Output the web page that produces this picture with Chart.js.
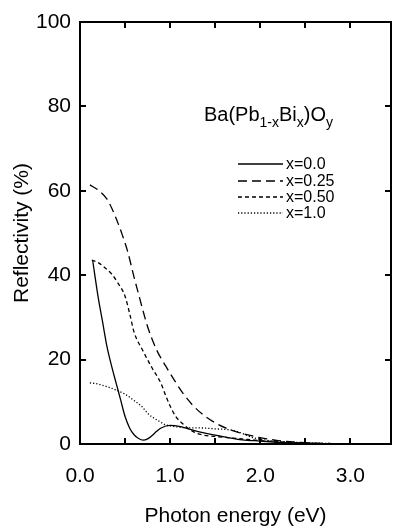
<!DOCTYPE html>
<html>
<head>
<meta charset="utf-8">
<script src="https://cdn.jsdelivr.net/npm/chart.js@4/dist/chart.umd.min.js"></script>
<style>
  html, body { margin: 0; padding: 0; background: #fff; }
  #c { display: block; }
</style>
</head>
<body>
<canvas id="c" width="393" height="528"></canvas>
<script>
// ---- Data ----
const seriesLabels = ['x=0.0', 'x=0.25', 'x=0.50', 'x=1.0'];

const energy_x000 = [0.14,0.2,0.25,0.3,0.35,0.4,0.45,0.5,0.55,0.6,0.65,0.7,0.75,0.8,0.85,0.9,1.0,1.1,1.2,1.3,1.4,1.5,1.6,1.8,2.0,2.2,2.5,2.8];
const refl_x000   = [43.6,35,29,23,18.5,14.5,10.5,6.5,3.8,2.2,1.3,0.9,1.2,2.0,3.0,3.8,4.4,4.2,3.6,3.0,2.5,2.1,1.7,1.0,0.7,0.4,0.2,0.05];

const energy_x025 = [0.11,0.2,0.3,0.35,0.4,0.47,0.53,0.6,0.65,0.7,0.75,0.85,0.95,1.05,1.15,1.25,1.35,1.5,1.65,1.8,2.0,2.2,2.5,2.8];
const refl_x025   = [61.4,60.2,58,56,53.5,49.5,45.5,39.5,35.5,31.5,27.8,22.3,18.5,15,11.8,9.2,7.2,5,3.5,2.5,1.5,0.8,0.3,0.1];

const energy_x050 = [0.13,0.2,0.28,0.35,0.41,0.5,0.55,0.6,0.7,0.8,0.9,0.95,1.0,1.06,1.15,1.25,1.35,1.5,1.7,2.0,2.3,2.6];
const refl_x050   = [43.6,43,41.7,40.3,38.5,35,31,26.5,22,18,14.3,11.5,9,6.6,4.6,3,2.2,1.8,1.4,0.8,0.4,0.1];

const energy_x100 = [0.11,0.2,0.31,0.4,0.5,0.6,0.69,0.75,0.8,0.87,0.94,1.0,1.1,1.2,1.33,1.5,1.7,1.8,1.92,2.1,2.3,2.5,2.8];
const refl_x100   = [14.5,14.2,13.5,12.8,11.8,10.3,8.8,7.3,6.4,5.5,4.6,4.3,4.0,3.8,3.8,3.6,3.2,2.5,1.5,0.8,0.5,0.3,0.1];

const xTickValues = [0, 0.5, 1.0, 1.5, 2.0, 2.5, 3.0];
const yTickValues = [0, 20, 40, 60, 80, 100];

// ---- Build datasets ----
function pts(xs, ys) { return xs.map((x, i) => ({ x: x, y: ys[i] })); }
const dashes = [[], [9, 5], [4, 3], [1.2, 2]];
const allX = [energy_x000, energy_x025, energy_x050, energy_x100];
const allY = [refl_x000, refl_x025, refl_x050, refl_x100];

const datasets = seriesLabels.map((lab, i) => ({
  label: lab,
  data: pts(allX[i], allY[i]),
  showLine: true,
  borderColor: '#000',
  borderWidth: 1.3,
  borderDash: dashes[i],
  pointRadius: 0,
  fill: false,
  cubicInterpolationMode: 'monotone'
}));

const FONT = "'Liberation Sans', Arial, Helvetica, sans-serif";

const decor = {
  id: 'decor',
  afterDraw(chart) {
    const ctx = chart.ctx;
    const a = chart.chartArea;
    const xs = chart.scales.x, ys = chart.scales.y;
    ctx.save();
    // frame
    ctx.strokeStyle = '#000';
    ctx.lineWidth = 2;
    ctx.setLineDash([]);
    ctx.strokeRect(a.left, a.top, a.right - a.left, a.bottom - a.top);
    // inward ticks
    const tl = 6;
    ctx.beginPath();
    xTickValues.forEach(v => {
      if (v <= xs.min || v >= xs.max) return;
      const px = Math.round(xs.getPixelForValue(v));
      ctx.moveTo(px, a.bottom); ctx.lineTo(px, a.bottom - tl);
      ctx.moveTo(px, a.top); ctx.lineTo(px, a.top + tl);
    });
    yTickValues.forEach(v => {
      if (v <= ys.min || v >= ys.max) return;
      const py = Math.round(ys.getPixelForValue(v));
      ctx.moveTo(a.left, py); ctx.lineTo(a.left + tl, py);
      ctx.moveTo(a.right, py); ctx.lineTo(a.right - tl, py);
    });
    ctx.stroke();

    // compound label
    ctx.fillStyle = '#000';
    ctx.textBaseline = 'alphabetic';
    ctx.textAlign = 'left';
    const parts = [['Ba(Pb', 0], ['1-x', 1], ['Bi', 0], ['x', 1], [')O', 0], ['y', 1]];
    let tx = 204;
    const baseY = 121;
    parts.forEach(p => {
      ctx.font = (p[1] ? '14px ' : '20px ') + FONT;
      ctx.fillText(p[0], tx, p[1] ? baseY + 6 : baseY);
      tx += ctx.measureText(p[0]).width;
    });

    // legend
    const legY = [164, 181, 197, 213];
    ctx.font = '16px ' + FONT;
    ctx.textBaseline = 'middle';
    chart.data.datasets.forEach((ds, i) => {
      ctx.beginPath();
      ctx.lineWidth = 1.3;
      ctx.setLineDash(ds.borderDash || []);
      ctx.moveTo(238, legY[i]);
      ctx.lineTo(283, legY[i]);
      ctx.stroke();
      ctx.setLineDash([]);
      ctx.fillText(ds.label, 286, legY[i] + 1);
    });
    ctx.restore();
  }
};

new Chart(document.getElementById('c'), {
  type: 'scatter',
  data: { datasets: datasets },
  options: {
    responsive: false,
    animation: false,
    events: [],
    layout: { padding: { top: 22, right: 2, left: 0, bottom: 0 } },
    plugins: { legend: { display: false }, tooltip: { enabled: false } },
    scales: {
      x: {
        type: 'linear', min: 0, max: 3.45,
        border: { display: false },
        grid: { display: false, drawTicks: false },
        ticks: {
          stepSize: 0.5, includeBounds: false, autoSkip: false, maxRotation: 0,
          padding: 20, color: '#000',
          font: { family: FONT, size: 21 },
          callback: v => (Math.abs(v - Math.round(v)) < 1e-6 ? v.toFixed(1) : '')
        },
        title: {
          display: true, text: 'Photon energy (eV)', color: '#000',
          font: { family: FONT, size: 21, lineHeight: 1 },
          padding: { top: 0, bottom: 1 }
        },
        afterFit: s => { s.height = 84; }
      },
      y: {
        type: 'linear', min: 0, max: 100,
        border: { display: false },
        grid: { display: false, drawTicks: false },
        ticks: {
          stepSize: 20, padding: 9, color: '#000',
          font: { family: FONT, size: 21 },
          callback: v => String(v)
        },
        title: {
          display: true, text: 'Reflectivity (%)', color: '#000',
          font: { family: FONT, size: 21, lineHeight: 1 },
          padding: { top: 12, bottom: 0 }
        },
        afterFit: s => { s.width = 80; }
      }
    }
  },
  plugins: [decor]
});
</script>
</body>
</html>
